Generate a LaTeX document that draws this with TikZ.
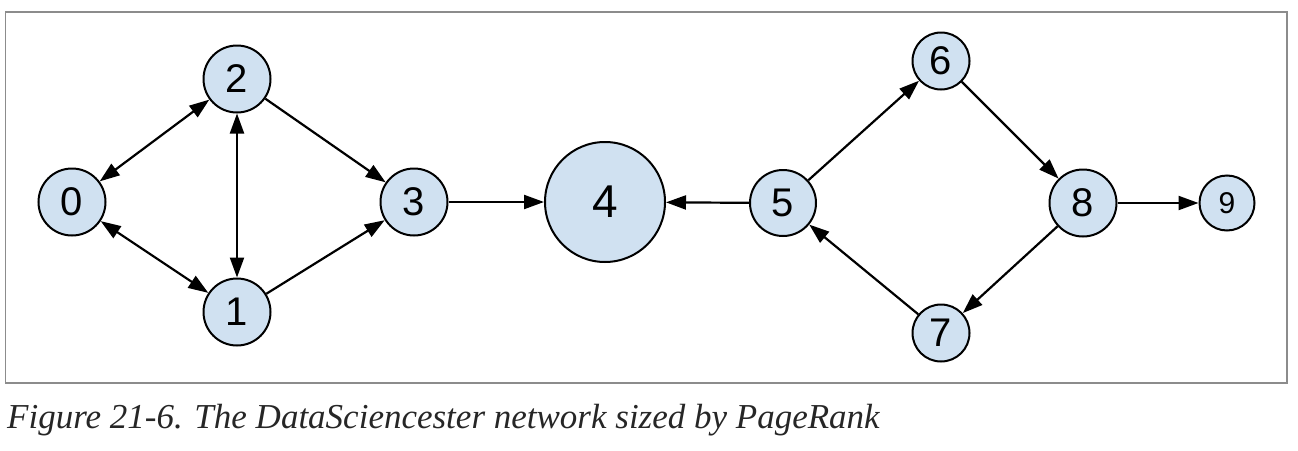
\documentclass[tikz,border=0pt]{standalone}
\usepackage{fontspec}
\setsansfont{Liberation Sans}
\newfontfamily\capfont{Liberation Serif}
\usetikzlibrary{arrows.meta}
\definecolor{nodefill}{RGB}{208,225,241}
\definecolor{framegray}{RGB}{140,140,140}
\begin{document}
\begin{tikzpicture}[x=1pt,y=-1pt,
  vtx/.style={circle,draw=black,line width=2pt,fill=nodefill,inner sep=0pt,
    font=\sffamily\fontsize{40}{40}\selectfont},
  arr/.style={line width=2.2pt,-{Triangle[length=20pt,width=14pt]}},
  barr/.style={line width=2.2pt,{Triangle[length=20pt,width=14pt]}-{Triangle[length=20pt,width=14pt]}}]
\useasboundingbox (0,0) rectangle (1298,450);
\draw[framegray,line width=1.2pt] (5.5,12) rectangle (1287,383);
\node[vtx,minimum size=67pt] (n0) at (72,202) {0};
\node[vtx,minimum size=67pt] (n1) at (237,312) {1};
\node[vtx,minimum size=67pt] (n2) at (237,79) {2};
\node[vtx,minimum size=67pt] (n3) at (414,202) {3};
\node[vtx,minimum size=120pt,font=\sffamily\fontsize{46}{46}\selectfont] (n4) at (605,202) {4};
\node[vtx,minimum size=66pt] (n5) at (783,203) {5};
\node[vtx,minimum size=57pt] (n6) at (941,61) {6};
\node[vtx,minimum size=57pt] (n7) at (941,333) {7};
\node[vtx,minimum size=67pt] (n8) at (1083,203) {8};
\node[vtx,minimum size=55pt,font=\sffamily\fontsize{30}{30}\selectfont] (n9) at (1227,203) {9};
\draw[barr] (n0) -- (n2);
\draw[barr] (n0) -- (n1);
\draw[barr] (n2) -- (n1);
\draw[arr] (n2) -- (n3);
\draw[arr] (n1) -- (n3);
\draw[arr] (n3) -- (n4);
\draw[arr] (n5) -- (n4);
\draw[arr] (n5) -- (n6);
\draw[arr] (n6) -- (n8);
\draw[arr] (n8) -- (n7);
\draw[arr] (n7) -- (n5);
\draw[arr] (n8) -- (n9);
\node[anchor=base west,inner sep=0pt,text=black!85,font=\capfont\itshape\fontsize{35}{35}\selectfont] (cap) at (7,428) {Figure 21-6. The DataSciencester network sized by PageRank};
\end{tikzpicture}
\end{document}
